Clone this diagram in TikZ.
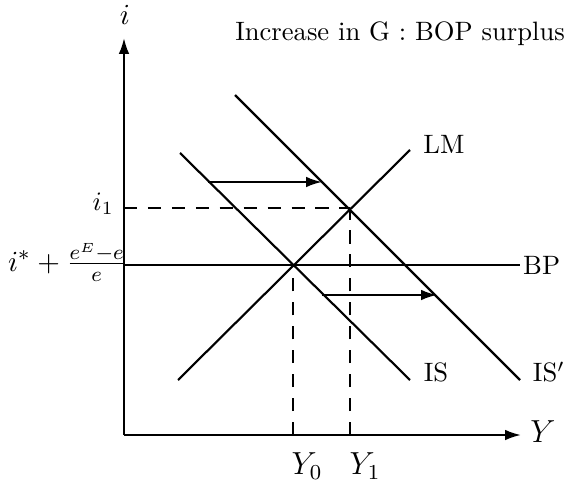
\documentclass[tikz,border=0pt]{standalone}
\usetikzlibrary{arrows.meta, positioning}

\begin{document}
\begin{tikzpicture}[
  x=0.376pt, y=0.376pt,
  curve/.style={draw, thick},
  axis/.style={draw, thick, -{Latex[length=6pt, width=4pt]}},
  guide/.style={draw, thick, dash pattern=on 5pt off 4pt},
  shift arrow/.style={draw, thick, -{Latex[length=6pt, width=4pt]}},
  lbl/.style={inner sep=1pt},
  axlbl/.style={inner sep=1pt, font=\large}
]
\useasboundingbox (-124,-49) rectangle (445,435);

% axes
\coordinate (O) at (0,0);
\coordinate (itop) at (0,397);
\coordinate (Yend) at (397,0);
\path[axis] (O) -- (itop);
\path[axis] (O) -- (Yend);
\node[lbl, font=\fontsize{11}{13}\selectfont] (ilab) at (1,420) {$i$};
\node[axlbl] (Ylab) at (419,3) {$Y$};

% curves
\coordinate (LMa) at (54,55);    \coordinate (LMb) at (286,285);
\coordinate (ISa) at (56,282);   \coordinate (ISb) at (286,55);
\coordinate (ISpa) at (111,340); \coordinate (ISpb) at (396,55);
\coordinate (BPa) at (0,170);    \coordinate (BPb) at (396,170);
\path[curve] (LMa) -- (LMb);
\path[curve] (ISa) -- (ISb);
\path[curve] (ISpa) -- (ISpb);
\path[curve] (BPa) -- (BPb);
\node[lbl] (LMlab) at (320,291) {LM};
\node[lbl] (ISlab) at (312,63) {IS};
\node[lbl, anchor=east] (ISplab) at (444,63) {IS$'$};
\node[lbl, anchor=west] (BPlab) at (BPb) {BP};

% equilibria
\coordinate (E0) at (169,170);
\coordinate (E1) at (226,227);
\coordinate (Y0) at (169,0);
\coordinate (Y1) at (226,0);
\coordinate (i1) at (0,227);
\path[guide] (Y0) -- (E0);
\path[guide] (Y1) -- (E1);
\path[guide] (i1) -- (E1);
\node[axlbl] (Y0lab) at (183,-31) {$Y_0$};
\node[axlbl] (Y1lab) at (241,-31) {$Y_1$};
\node[lbl, anchor=east] (i1lab) at (-7,231) {$i_1$};
\node[lbl, anchor=east, font=\fontsize{11}{13}\selectfont] (istar) at (6,173) {$i^{*}+\frac{e^{E}-e}{e}$};

% shift of IS
\coordinate (sh1a) at (84,253);  \coordinate (sh1b) at (198,253);
\coordinate (sh2a) at (198,140); \coordinate (sh2b) at (313,140);
\path[shift arrow] (sh1a) -- (sh1b);
\path[shift arrow] (sh2a) -- (sh2b);

\node[lbl, anchor=east] (title) at (444,401) {Increase in G : BOP surplus};
\end{tikzpicture}
\end{document}
